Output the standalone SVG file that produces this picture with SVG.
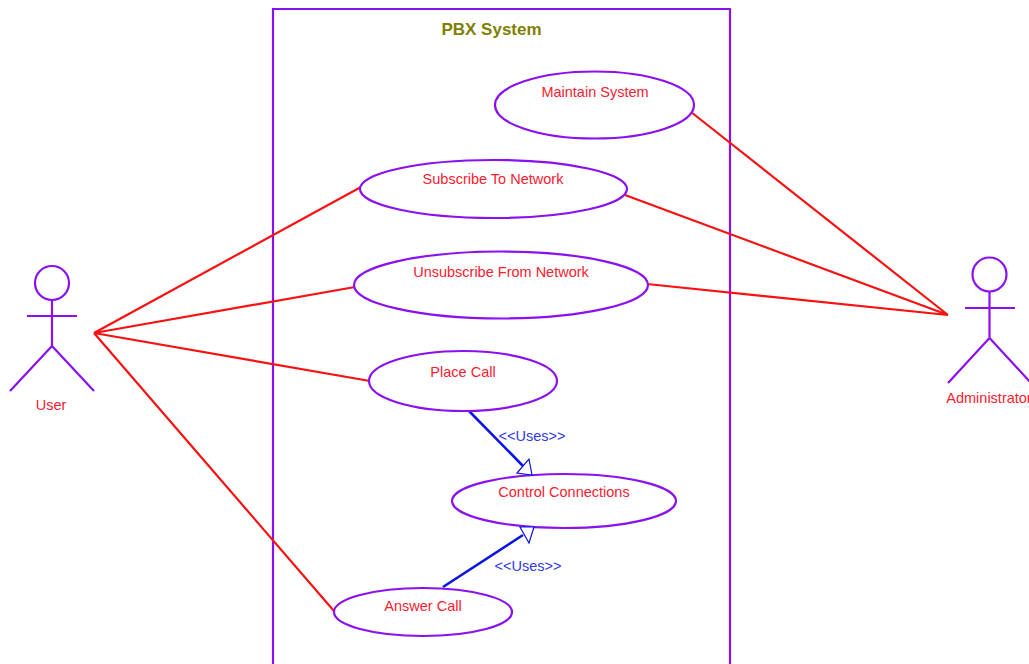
<svg xmlns="http://www.w3.org/2000/svg" width="1029" height="664" viewBox="0 0 1029 664">
<style>
.s{fill:none;stroke:#8a10f0;stroke-width:2.2}
.e{fill:#fff;stroke:#8a10f0;stroke-width:2.2}
.r{stroke:#fa1010;stroke-width:2.2;fill:none}
.b{stroke:#0a14e6;stroke-width:2.6;fill:none}
.h{stroke:#0a14e6;stroke-width:1.2;fill:#fff}
text{font-family:"Liberation Sans",Arial,sans-serif;font-size:14.500px;text-anchor:middle}
.t{fill:#fa2030}
.u{fill:#3038e8}
.title{font-size:17px;font-weight:bold;fill:#808000}
</style>
<rect width="1029" height="664" fill="#fff"/>
<g id="system"><path class="s" d="M273 664V9H730V664"/><text class="title" x="491.500" y="35">PBX System</text></g>
<g id="connectors">
<path class="r" d="M94 333L361 187M94 333L355 287M94 333L370 381M94 333L334 611M691 112L948 315M625 195L948 315M647 284L948 315"/>
<path class="b" d="M469 411L523 466M443 587L523 535"/>
<text class="u" x="532" y="441">&lt;&lt;Uses&gt;&gt;</text>
<text class="u" x="528" y="571">&lt;&lt;Uses&gt;&gt;</text>
</g>
<g id="maintain"><ellipse class="e" cx="594.500" cy="105" rx="99.500" ry="33.500"/><text class="t" x="595" y="97">Maintain System</text></g>
<g id="subscribe"><ellipse class="e" cx="493.500" cy="189" rx="133.500" ry="29"/><text class="t" x="493" y="184">Subscribe To Network</text></g>
<g id="unsubscribe"><ellipse class="e" cx="501" cy="285" rx="147" ry="33.500"/><text class="t" x="501" y="277">Unsubscribe From Network</text></g>
<g id="place"><ellipse class="e" cx="463" cy="381" rx="94" ry="30"/><text class="t" x="463" y="377">Place Call</text></g>
<g id="control"><ellipse class="e" cx="564" cy="501" rx="112" ry="27"/><text class="t" x="564" y="497">Control Connections</text></g>
<g id="answer"><ellipse class="e" cx="423" cy="612" rx="89" ry="24"/><text class="t" x="423" y="611">Answer Call</text></g>
<g id="arrowheads">
<path class="h" d="M517 473L529 459L532 475Z"/>
<path class="h" d="M520 527L534 527L529 543Z"/>
</g>
<g id="user"><circle class="s" cx="52" cy="283" r="17"/><path class="s" d="M52 300V346M27 316H77M52 346L10 391M52 346L94 391"/><text class="t" x="51" y="410">User</text></g>
<g id="admin"><circle class="s" cx="989.500" cy="274.500" r="17"/><path class="s" d="M989.500 292V338M965 308H1015M989.500 338L948 383M989.500 338L1031 383"/><text class="t" x="989" y="403">Administrator</text></g>
</svg>
